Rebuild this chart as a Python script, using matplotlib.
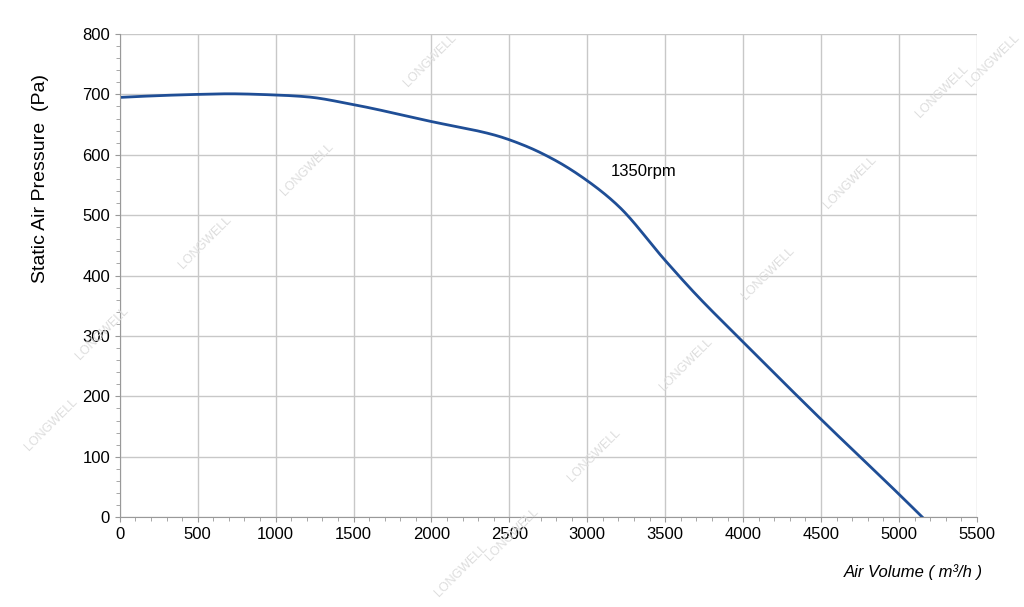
import matplotlib
matplotlib.use("Agg")
import matplotlib.pyplot as plt
from matplotlib.ticker import MultipleLocator
import numpy as np

plt.rcParams['font.family'] = ['Liberation Sans', 'DejaVu Sans']

air_volume = [0, 500, 700, 1000, 1200, 1500, 2000, 2400, 2600, 2800, 3000, 3200, 3500, 3700, 4000, 4500, 5000, 5150]
pressure = [695, 700, 701, 699, 696, 683, 655, 633, 615, 590, 557, 515, 425, 368, 290, 162, 38, 0]

fig = plt.figure(figsize=(10.24, 6.07), dpi=100)
ax = fig.add_axes([0.117, 0.148, 0.837, 0.796])

xs = np.linspace(0, 5150, 600)
try:
    from scipy.interpolate import PchipInterpolator
    ys = PchipInterpolator(air_volume, pressure)(xs)
except Exception:
    ys = np.interp(xs, air_volume, pressure)
ax.plot(xs, ys, color="#1f4e96", lw=2)

ax.set_xlim(0, 5500)
ax.set_ylim(0, 800)
ax.xaxis.set_major_locator(MultipleLocator(500))
ax.xaxis.set_minor_locator(MultipleLocator(100))
ax.yaxis.set_major_locator(MultipleLocator(100))
ax.yaxis.set_minor_locator(MultipleLocator(20))
ax.grid(True, which="major", color="#c8c8c8", lw=1)
for s in ["top", "right"]:
    ax.spines[s].set_visible(False)
for s in ["left", "bottom"]:
    ax.spines[s].set_color("#999999")
ax.tick_params(which="both", color="#999999", labelsize=12)
ax.tick_params(which="minor", length=3)
ax.set_ylabel("Static Air Pressure  (Pa)", fontsize=14)
ax.yaxis.set_label_coords(-0.083, 0.70)
fig.text(0.96, 0.05, "Air Volume ( m³/h )", ha="right", fontsize=12, style="italic")
ax.text(3150, 565, "1350rpm", fontsize=12)

for (x, y) in [(0.05, 0.3), (0.1, 0.45), (0.2, 0.6), (0.3, 0.72), (0.42, 0.9), (0.5, 0.12), (0.58, 0.25), (0.67, 0.4),
               (0.75, 0.55), (0.83, 0.7), (0.92, 0.85), (0.97, 0.9), (0.45, 0.06)]:
    fig.text(x, y, "LONGWELL", rotation=45, fontsize=9, color="#dddddd", ha="center", va="center")

fig.savefig("out.png", dpi=100)
